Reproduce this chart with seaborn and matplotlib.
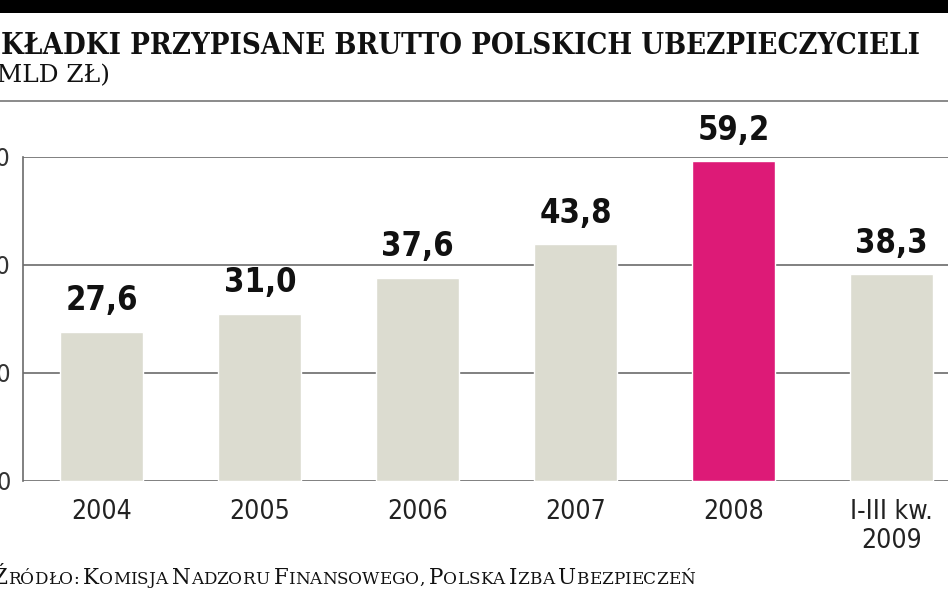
import matplotlib
matplotlib.use("Agg")
import matplotlib.pyplot as plt
import seaborn as sns
from matplotlib import font_manager
from matplotlib.patches import Rectangle
from matplotlib.lines import Line2D

# Data
categories = ["2004", "2005", "2006", "2007", "2008", "I-III kw.\n2009"]
values = [27.6, 31.0, 37.6, 43.8, 59.2, 38.3]
value_labels = ["27,6", "31,0", "37,6", "43,8", "59,2", "38,3"]
bar_colors = ["#dcdcd0", "#dcdcd0", "#dcdcd0", "#dcdcd0", "#dd1a77", "#dcdcd0"]
y_ticks = [0, 20, 40, 60]

title = "SKŁADKI PRZYPISANE BRUTTO POLSKICH UBEZPIECZYCIELI"
subtitle = "(MLD ZŁ)"
source = "Źródło: Komisja Nadzoru Finansowego, Polska Izba Ubezpieczeń"

sns.set_style("white")

# pick a narrow sans font if one is installed
fonts = font_manager.fontManager.ttflist
names = {f.name for f in fonts}
narrow = dict(family="DejaVu Sans")
if "Liberation Sans Narrow" in names:
    narrow = dict(family="Liberation Sans Narrow")
elif any(f.name == "DejaVu Sans" and "condensed" in str(f.stretch) for f in fonts):
    narrow = dict(family="DejaVu Sans", stretch="condensed")
plt.rcParams["font.family"] = [narrow["family"], "DejaVu Sans"]
if "stretch" in narrow:
    plt.rcParams["font.stretch"] = "condensed"

W, H = 948, 593
fig = plt.figure(figsize=(W / 100, H / 100), dpi=100)
ax = fig.add_axes([23 / W, 1 - 481 / H, 1 - 23 / W, (481 - 157) / H])

sns.barplot(x=categories, y=values, hue=categories, palette=bar_colors,
            legend=False, width=0.525, saturation=1, ax=ax, zorder=3)

ax.set_xlim(-0.5, 5.36)
ax.set_ylim(0, 60)
ax.set_yticks(y_ticks)
ax.set_xlabel("")
ax.set_ylabel("")

# grid and spines
ax.yaxis.grid(True, color="#6b6b6b", linewidth=1.2, zorder=0)
ax.xaxis.grid(False)
ax.set_axisbelow(True)
for side in ["top", "right", "bottom"]:
    ax.spines[side].set_visible(False)
ax.spines["left"].set_color("#6b6b6b")
ax.spines["left"].set_linewidth(1.2)

ax.tick_params(axis="y", length=0, pad=9, labelsize=18, labelcolor="#333333")
ax.tick_params(axis="x", length=0, pad=13, labelsize=19, labelcolor="#222222")
for lbl in ax.get_xticklabels():
    lbl.set_linespacing(1.15)

# value labels above bars
for i, (v, txt) in enumerate(zip(values, value_labels)):
    ax.annotate(txt, xy=(i, v), xytext=(0, 15.5), textcoords="offset points",
                ha="center", va="baseline", fontsize=23.5, fontweight="bold",
                color="#111111", annotation_clip=False)

# header: black band, title, subtitle, separator
fig.patches.append(Rectangle((0, 1 - 13 / H), 1, 13 / H, transform=fig.transFigure,
                             facecolor="black", edgecolor="none"))
fig.text(920 / W, 1 - 45 / H, title, ha="right", va="center",
         family="DejaVu Serif", fontweight="bold", fontsize=21, color="#111111")
fig.text(110 / W, 1 - 76 / H, subtitle, ha="right", va="center",
         family="DejaVu Serif", fontstretch="normal", fontsize=17.9, color="#111111")
fig.lines.append(Line2D([0, 1], [1 - 101 / H, 1 - 101 / H], transform=fig.transFigure,
                        color="#777777", linewidth=1.2))

# source line in small caps (big initial letters, smaller caps for the rest)
renderer = fig.canvas.get_renderer()
big, small = 15.5, 12.2
pieces = []
for w, word in enumerate(source.split(" ")):
    if w > 0:
        pieces.append((" ", small))
    for ch in word:
        pieces.append((ch.upper(), big if ch.isupper() else small))
x = 0
drawn = []
for ch, size in pieces:
    t = fig.text(x, 1 - 584 / H, ch, ha="left", va="baseline", family="DejaVu Serif",
                 fontstretch="normal", fontsize=size, color="#111111", transform=None)
    ext = t.get_window_extent(renderer)
    drawn.append(t)
    x += ext.width if ch != " " else size * 0.35
shift = 695 - x
for t in drawn:
    t.set_transform(fig.dpi_scale_trans)
    t.set_position(((t.get_position()[0] + shift) / 100, (H - 584) / 100))

fig.savefig("out.png", dpi=100)
